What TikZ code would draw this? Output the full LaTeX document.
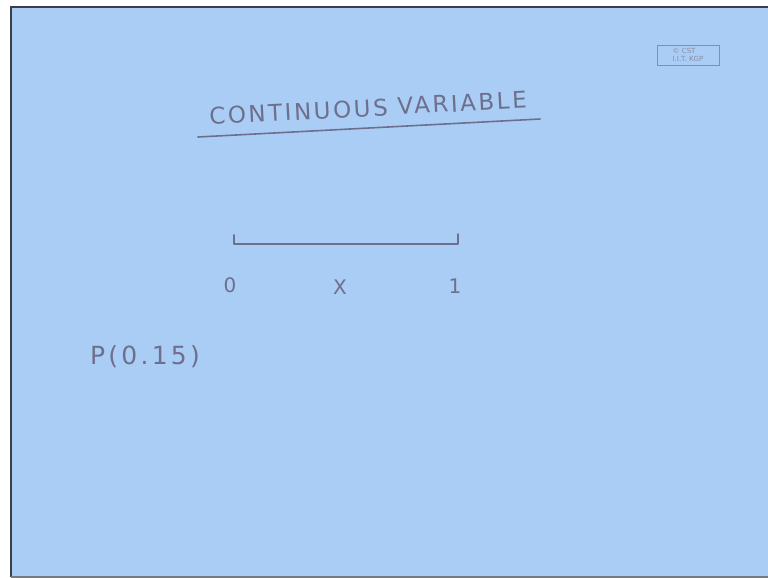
\documentclass[tikz,border=0pt]{standalone}
\usepackage{fontspec}
\setmainfont{DejaVu Sans}
\definecolor{board}{HTML}{AACDF6}
\definecolor{ink}{HTML}{6E6F8C}
\definecolor{frame}{HTML}{3A3F4A}
\tikzset{
  hand/.style={text=ink, font=\fontsize{20}{24}\selectfont\addfontfeature{LetterSpace=8}, inner sep=0pt},
  penline/.style={draw=ink, line width=1.6pt, line cap=round, line join=round}
}
\begin{document}
\begin{tikzpicture}[x=1pt,y=-1pt]
\useasboundingbox (0,0) rectangle (768,578);
\fill[white] (0,0) rectangle (768,578);
\fill[board] (11,6) rectangle (768,576);
\draw[frame, line width=2pt] (11,577) -- (11,7) -- (768,7);
\draw[frame!70, line width=1.5pt] (11,577) -- (768,577);
% stamp
\node[draw=ink!80, line width=0.7pt, text=ink!80, font=\fontsize{7}{7.5}\selectfont, align=left, inner sep=2pt, minimum width=62pt, minimum height=20pt] (stamp) at (688,55) {© CST\\ I.I.T. KGP};
% title
\node[hand, rotate=3, font=\fontsize{23}{26}\selectfont\addfontfeature{LetterSpace=11}] (title) at (368,108) {CONTINUOUS VARIABLE};
\coordinate (ulA) at (198,137);
\coordinate (ulB) at (540,119);
\draw[penline] (ulA) -- (ulB);
% number line
\coordinate (lt) at (234,235);
\coordinate (lb) at (234,244);
\coordinate (rb) at (458,244);
\coordinate (rt) at (458,234);
\draw[penline] (lt) -- (lb) -- (rb) -- (rt);
\node[hand] (zero) at (230,285) {0};
\node[hand] (xvar) at (340,287) {X};
\node[hand] (one) at (455,286) {1};
% probability
\node[hand, font=\fontsize{25}{28}\selectfont\addfontfeature{LetterSpace=13}] (prob) at (145,357) {P(0.15)};
\end{tikzpicture}
\end{document}
